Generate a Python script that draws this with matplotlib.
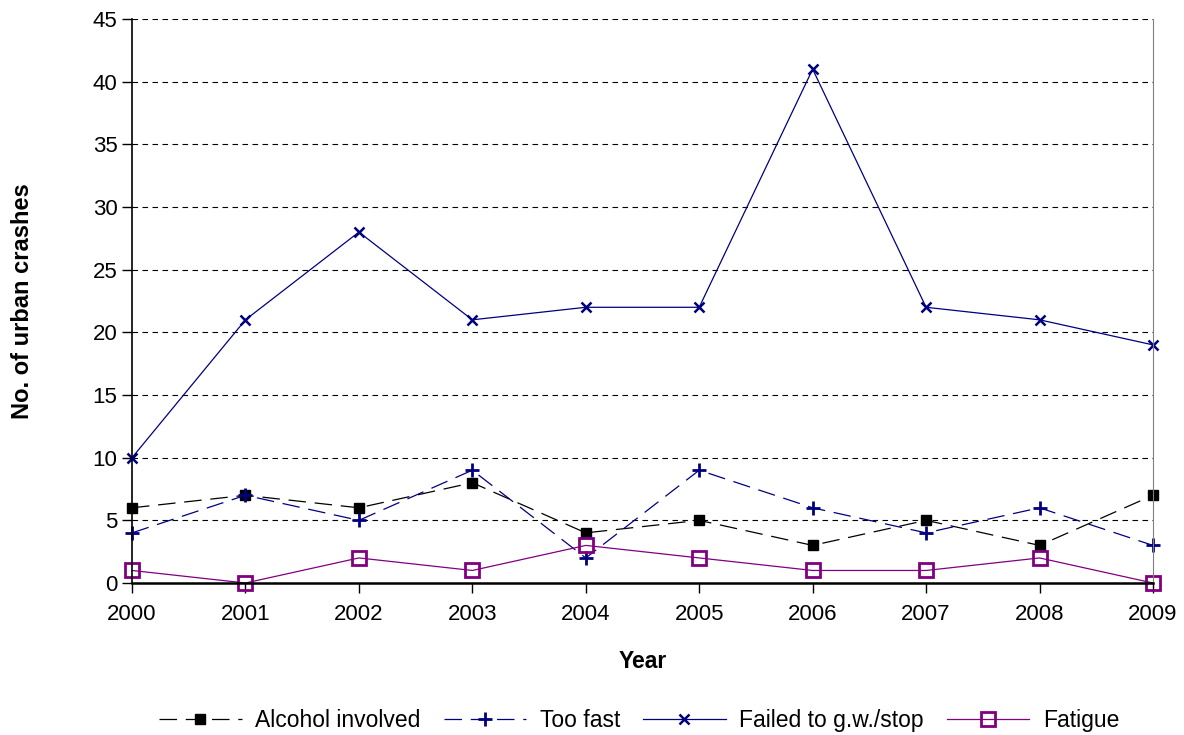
import matplotlib
matplotlib.use('Agg')
import matplotlib.pyplot as plt

plt.rcParams['font.family'] = ['Liberation Sans', 'DejaVu Sans']

years = [2000, 2001, 2002, 2003, 2004, 2005, 2006, 2007, 2008, 2009]
alcohol = [6, 7, 6, 8, 4, 5, 3, 5, 3, 7]
too_fast = [4, 7, 5, 9, 2, 9, 6, 4, 6, 3]
failed_gw = [10, 21, 28, 21, 22, 22, 41, 22, 21, 19]
fatigue = [1, 0, 2, 1, 3, 2, 1, 1, 2, 0]

navy = '#000080'
purple = '#800080'

fig = plt.figure(figsize=(11.84, 7.35), dpi=100)
ax = fig.add_axes([0.1115, 0.2068, 0.8623, 0.7673])

ax.plot(years, alcohol, color='black', lw=0.9, dashes=(14, 7), marker='s',
        ms=7, mfc='black', mec='black', label='Alcohol involved', clip_on=False)
ax.plot(years, too_fast, color=navy, lw=0.9, dashes=(14, 7), marker='+',
        ms=10, mew=2, label='Too fast', clip_on=False)
ax.plot(years, failed_gw, color=navy, lw=0.9, marker='x',
        ms=7, mew=1.8, label='Failed to g.w./stop', clip_on=False)
ax.plot(years, fatigue, color=purple, lw=0.9, marker='s',
        ms=10, mfc='none', mec=purple, mew=2, label='Fatigue', clip_on=False)

ax.set_xlim(2000, 2009)
ax.set_ylim(0, 45)
ax.set_xticks(years)
ax.set_yticks(range(0, 46, 5))
ax.tick_params(labelsize=16, length=7, width=1)
ax.tick_params(axis='x', pad=8)
ax.yaxis.grid(True, color='black', ls=(0, (5, 4)), lw=0.8)
ax.set_axisbelow(True)

ax.spines['top'].set_visible(False)
ax.spines['right'].set_color('gray')
ax.spines['left'].set_linewidth(1.2)
ax.spines['bottom'].set_linewidth(1.8)

ax.set_xlabel('Year', fontsize=16.5, fontweight='bold', labelpad=18)
ax.set_ylabel('No. of urban crashes', fontsize=17, fontweight='bold', labelpad=42)

fig.legend(loc='lower center', bbox_to_anchor=(0.54, -0.024), ncol=4, frameon=False,
           fontsize=16.5, handlelength=3.6, handletextpad=0.6, columnspacing=1.0)

fig.savefig('out.png', dpi=100)
